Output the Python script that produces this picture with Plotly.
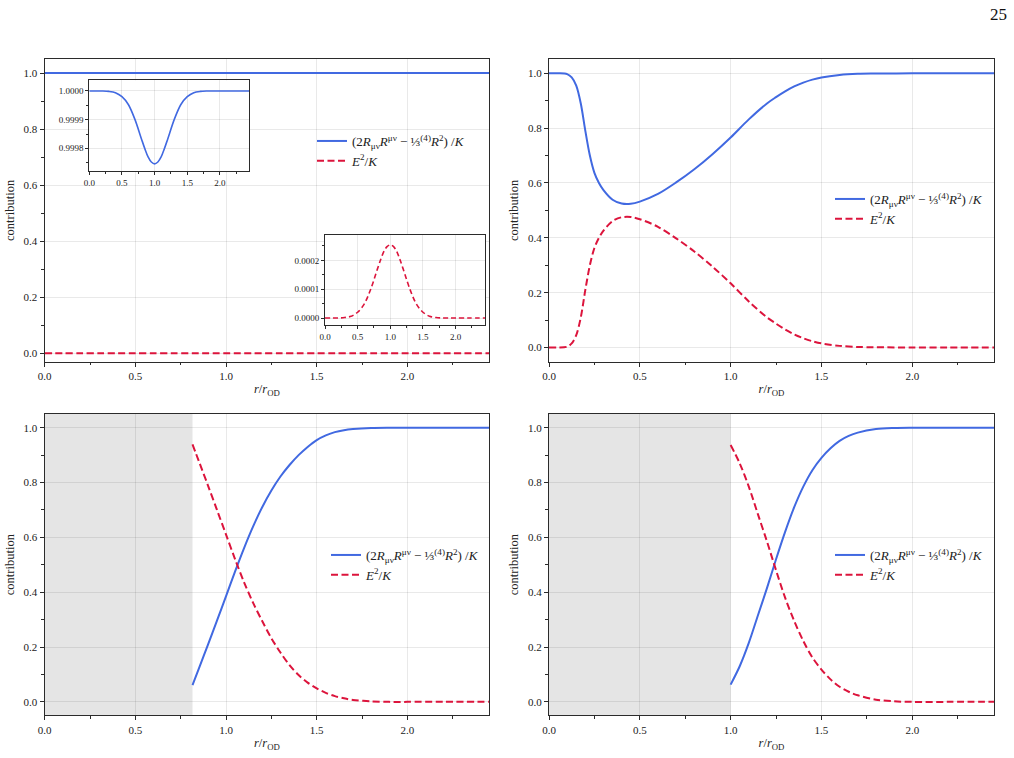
import plotly.graph_objects as go

# ---------------- data ----------------
# top-left (inset values, same series as the main panel)
r_tl = [0.0, 0.1, 0.2, 0.3, 0.4, 0.5, 0.6, 0.7, 0.8, 0.85, 0.9, 0.95, 1.0, 1.05, 1.1, 1.15,
        1.2, 1.3, 1.4, 1.5, 1.6, 1.7, 1.8, 1.9, 2.0, 2.2, 2.45]
geo_tl = [1.0, 1.0, 0.9999998, 0.9999985, 0.999994, 0.99998, 0.999952, 0.9999, 0.999832,
          0.999799, 0.99977, 0.9997525, 0.999746, 0.9997525, 0.99977, 0.999799, 0.999832,
          0.9999, 0.999952, 0.99998, 0.999994, 0.9999985, 0.9999998, 1.0, 1.0, 1.0, 1.0]
ele_tl = [0.0, 0.0, 0.0000002, 0.0000015, 0.000006, 0.00002, 0.000048, 0.0001, 0.000168,
          0.000201, 0.00023, 0.0002475, 0.000254, 0.0002475, 0.00023, 0.000201, 0.000168,
          0.0001, 0.000048, 0.00002, 0.000006, 0.0000015, 0.0000002, 0.0, 0.0, 0.0, 0.0]

# top-right
r_tr = [0.0, 0.05, 0.1, 0.125, 0.15, 0.175, 0.2, 0.225, 0.25, 0.275, 0.3, 0.35, 0.4, 0.45,
        0.5, 0.6, 0.7, 0.8, 0.9, 1.0, 1.1, 1.2, 1.25, 1.3, 1.35, 1.4, 1.45, 1.5, 1.6, 1.7,
        1.8, 2.0, 2.2, 2.45]
geo_tr = [1.0, 1.0, 0.997, 0.985, 0.955, 0.89, 0.79, 0.70, 0.637, 0.60, 0.574, 0.539, 0.525,
          0.524, 0.532, 0.56, 0.602, 0.65, 0.705, 0.766, 0.832, 0.89, 0.913, 0.934, 0.952,
          0.966, 0.977, 0.985, 0.994, 0.998, 0.999, 1.0, 1.0, 1.0]
ele_tr = [0.0, 0.0, 0.003, 0.015, 0.045, 0.11, 0.21, 0.30, 0.363, 0.40, 0.426, 0.461, 0.475,
          0.476, 0.468, 0.44, 0.398, 0.35, 0.295, 0.234, 0.168, 0.11, 0.087, 0.066, 0.048,
          0.034, 0.023, 0.015, 0.006, 0.002, 0.001, 0.0, 0.0, 0.0]

# bottom-left (excised interior r < 0.815)
r_bl = [0.815, 0.85, 0.9, 0.95, 1.0, 1.05, 1.1, 1.15, 1.2, 1.25, 1.3, 1.35, 1.4, 1.45, 1.5,
        1.55, 1.6, 1.65, 1.7, 1.8, 1.9, 2.0, 2.2, 2.45]
geo_bl = [0.061, 0.121, 0.208, 0.296, 0.386, 0.476, 0.562, 0.641, 0.711, 0.771, 0.822,
          0.864, 0.90, 0.93, 0.955, 0.972, 0.984, 0.991, 0.995, 0.999, 1.0, 1.0, 1.0, 1.0]
ele_bl = [0.939, 0.878, 0.79, 0.70, 0.61, 0.52, 0.435, 0.36, 0.294, 0.232, 0.18, 0.134,
          0.098, 0.07, 0.049, 0.033, 0.021, 0.013, 0.007, 0.002, 0.0, 0.0, 0.0, 0.0]

# bottom-right (excised interior r < 1.0)
r_br = [1.0, 1.05, 1.1, 1.15, 1.2, 1.25, 1.3, 1.35, 1.4, 1.45, 1.5, 1.55, 1.6, 1.65, 1.7,
        1.8, 1.9, 2.0, 2.2, 2.45]
geo_br = [0.063, 0.13, 0.215, 0.315, 0.415, 0.52, 0.62, 0.71, 0.785, 0.845, 0.89, 0.925,
          0.952, 0.97, 0.982, 0.995, 0.999, 1.0, 1.0, 1.0]
ele_br = [0.937, 0.87, 0.785, 0.685, 0.585, 0.48, 0.38, 0.295, 0.222, 0.162, 0.118, 0.082,
          0.055, 0.037, 0.024, 0.008, 0.002, 0.0, 0.0, 0.0]

excised_r = [None, None, 0.815, 1.0]   # shaded region edge per panel

x_ticks = [0.0, 0.5, 1.0, 1.5, 2.0]
y_ticks = [0.0, 0.2, 0.4, 0.6, 0.8, 1.0]
inset_geo_ticks = [0.9998, 0.9999, 1.0]
inset_ele_ticks = [0.0, 0.0001, 0.0002]

name_geo = ("(2<i>R</i><sub>μν</sub><i>R</i><sup>μν</sup> − ⅓<sup>(4)</sup><i>R</i><sup>2</sup>) /<i>K</i>")
name_ele = "<i>E</i><sup>2</sup>/<i>K</i>"

# ---------------- styling ----------------
FONT = "Liberation Serif, DejaVu Serif, serif"
BLUE = "#4169E1"
RED = "#DC143C"
GRID = "rgba(0,0,0,0.085)"
LINE = "#2b2b2b"
SM = 0.9

fig = go.Figure()

panels = [
    (r_tl, geo_tl, ele_tl, "x", "y", "legend"),
    (r_tr, geo_tr, ele_tr, "x2", "y2", "legend2"),
    (r_bl, geo_bl, ele_bl, "x3", "y3", "legend3"),
    (r_br, geo_br, ele_br, "x4", "y4", "legend4"),
]
for r, g, e, xa, ya, lg in panels:
    fig.add_trace(go.Scatter(x=r, y=g, xaxis=xa, yaxis=ya, mode="lines", name=name_geo,
                             line=dict(color=BLUE, width=2, shape="spline", smoothing=SM),
                             legend=lg))
    fig.add_trace(go.Scatter(x=r, y=e, xaxis=xa, yaxis=ya, mode="lines", name=name_ele,
                             line=dict(color=RED, width=2, dash="7px,3.5px", shape="spline",
                                       smoothing=SM),
                             legend=lg))

# insets
fig.add_trace(go.Scatter(x=r_tl, y=geo_tl, xaxis="x5", yaxis="y5", mode="lines",
                         showlegend=False,
                         line=dict(color=BLUE, width=1.6, shape="spline", smoothing=SM)))
fig.add_trace(go.Scatter(x=r_tl, y=ele_tl, xaxis="x6", yaxis="y6", mode="lines",
                         showlegend=False,
                         line=dict(color=RED, width=1.6, dash="5px,3px", shape="spline",
                                   smoothing=SM)))

W, H = 1014, 758


def xd(a, b):
    return [a / W, b / W]


def yd(top, bot):
    return [1 - bot / H, 1 - top / H]


main_x = dict(range=[0, 2.45], tickvals=x_ticks, ticktext=[f"{v:.1f}" for v in x_ticks],
              ticks="outside", ticklen=4, tickwidth=1, tickcolor=LINE, automargin=False,
              minor=dict(dtick=0.25, tick0=0, ticks="outside", ticklen=2.5, tickcolor=LINE,
                         showgrid=False),
              showgrid=True, gridcolor=GRID, gridwidth=1, zeroline=False,
              showline=True, linecolor=LINE, linewidth=1.3, mirror=True,
              tickfont=dict(family=FONT, size=11, color="#222"),
              title=dict(text="<i>r</i>/<i>r</i><sub>OD</sub>",
                         font=dict(family=FONT, size=12.5, color="#222"), standoff=3))
main_y = dict(tickvals=y_ticks, ticktext=[f"{v:.1f}" for v in y_ticks],
              ticks="outside", ticklen=4, tickwidth=1, tickcolor=LINE, automargin=False,
              minor=dict(dtick=0.1, tick0=0, ticks="outside", ticklen=2.5, tickcolor=LINE,
                         showgrid=False),
              showgrid=True, gridcolor=GRID, gridwidth=1, zeroline=False,
              showline=True, linecolor=LINE, linewidth=1.3, mirror=True,
              tickfont=dict(family=FONT, size=11, color="#222"),
              title=dict(text="contribution", font=dict(family=FONT, size=12.5, color="#222"),
                         standoff=6))

layout = dict(width=W, height=H, margin=dict(l=0, r=0, t=0, b=0, autoexpand=False),
              paper_bgcolor="white", plot_bgcolor="white",
              font=dict(family=FONT, color="#222"))

L1, R1 = 44.7, 489
L2, R2 = 549, 994
T1, B1 = 59.3, 361.5
T2, B2 = 414, 715.3

layout["xaxis"] = dict(main_x, domain=xd(L1, R1), anchor="y")
layout["yaxis"] = dict(main_y, domain=yd(T1, B1), anchor="x", range=[-0.0296, 1.049])
layout["xaxis2"] = dict(main_x, domain=xd(L2, R2), anchor="y2")
layout["yaxis2"] = dict(main_y, domain=yd(T1, B1), anchor="x2", range=[-0.051, 1.051])
layout["xaxis3"] = dict(main_x, domain=xd(L1, R1), anchor="y3")
layout["yaxis3"] = dict(main_y, domain=yd(T2, B2), anchor="x3", range=[-0.049, 1.05])
layout["xaxis4"] = dict(main_x, domain=xd(L2, R2), anchor="y4")
layout["yaxis4"] = dict(main_y, domain=yd(T2, B2), anchor="x4", range=[-0.049, 1.05])

inset_x = dict(range=[0, 2.45], tickvals=x_ticks, ticktext=[f"{v:.1f}" for v in x_ticks],
               ticks="outside", ticklen=3, tickcolor=LINE, automargin=False,
               minor=dict(dtick=0.25, tick0=0, ticks="outside", ticklen=2, tickcolor=LINE,
                          showgrid=False),
               showgrid=True, gridcolor=GRID, zeroline=False,
               showline=True, linecolor=LINE, linewidth=1.1, mirror=True,
               tickfont=dict(family=FONT, size=9, color="#222"))
inset_y = dict(ticks="outside", ticklen=3, tickcolor=LINE, automargin=False,
               showgrid=True, gridcolor=GRID, zeroline=False,
               showline=True, linecolor=LINE, linewidth=1.1, mirror=True,
               tickfont=dict(family=FONT, size=9, color="#222"))

layout["xaxis5"] = dict(inset_x, domain=xd(89.3, 249.3), anchor="y5")
layout["yaxis5"] = dict(inset_y, domain=yd(80.3, 171), anchor="x5",
                        range=[0.999721, 1.0000372], tickvals=inset_geo_ticks,
                        ticktext=[f"{v:.4f}" for v in inset_geo_ticks],
                        minor=dict(dtick=0.00005, tick0=0.9998, ticks="outside", ticklen=2,
                                   tickcolor=LINE, showgrid=False))
layout["xaxis6"] = dict(inset_x, domain=xd(325, 485), anchor="y6")
layout["yaxis6"] = dict(inset_y, domain=yd(234.7, 325), anchor="x6",
                        range=[-0.0000243, 0.000289], tickvals=inset_ele_ticks,
                        ticktext=[f"{v:.4f}" for v in inset_ele_ticks],
                        minor=dict(dtick=0.00005, tick0=0, ticks="outside", ticklen=2,
                                   tickcolor=LINE, showgrid=False))

shapes = []
# white backgrounds for insets
for xa, ya in [("x5", "y5"), ("x6", "y6")]:
    shapes.append(dict(type="rect", xref=f"{xa} domain", yref=f"{ya} domain",
                       x0=0, x1=1, y0=0, y1=1, fillcolor="white", line=dict(width=0),
                       layer="below"))
# excised regions
for i, (xa, ya) in enumerate([("x", "y"), ("x2", "y2"), ("x3", "y3"), ("x4", "y4")]):
    if excised_r[i] is not None:
        shapes.append(dict(type="rect", xref=xa, yref=f"{ya} domain", x0=0,
                           x1=excised_r[i], y0=0, y1=1, fillcolor="#e5e5e5",
                           line=dict(width=0), layer="below"))
layout["shapes"] = shapes

leg_common = dict(bgcolor="rgba(255,255,255,0)", borderwidth=0,
                  font=dict(family=FONT, size=13, color="#222"),
                  xanchor="left", yanchor="middle", tracegroupgap=0, itemwidth=30)
layout["legend"] = dict(leg_common, x=(320 - 8) / W, y=1 - 151 / H)
layout["legend2"] = dict(leg_common, x=(838 - 8) / W, y=1 - 209 / H)
layout["legend3"] = dict(leg_common, x=(334 - 8) / W, y=1 - 565 / H)
layout["legend4"] = dict(leg_common, x=(838 - 8) / W, y=1 - 565 / H)

layout["annotations"] = [dict(text="25", x=998 / W, y=1 - 14 / H, xref="paper", yref="paper",
                              showarrow=False, font=dict(family=FONT, size=17, color="#111"),
                              xanchor="center", yanchor="middle")]

fig.update_layout(**layout)
fig.write_html("out.html")
